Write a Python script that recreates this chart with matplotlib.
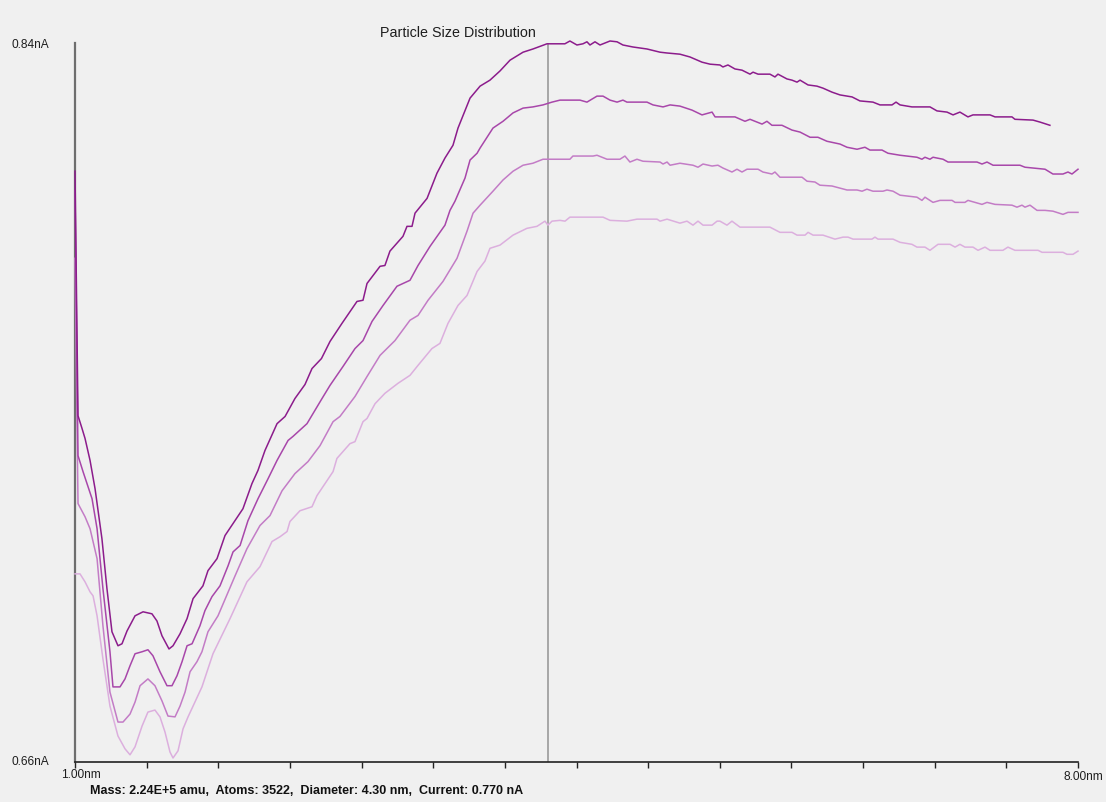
import matplotlib
matplotlib.use("Agg")
import matplotlib.pyplot as plt
from matplotlib.ticker import MultipleLocator

plt.rcParams['font.family'] = ['Liberation Sans', 'DejaVu Sans']

# ---- scan data: diameter (nm) vs detector current (nA) ----
d1 = [1.000, 1.021, 1.049, 1.070, 1.105, 1.140, 1.188, 1.223, 1.258, 1.300, 1.328, 1.363,
      1.419, 1.475, 1.537, 1.572, 1.607, 1.656, 1.684, 1.733, 1.782, 1.824, 1.893, 1.928,
      1.991, 2.047, 2.103, 2.172, 2.235, 2.277, 2.326, 2.410, 2.466, 2.535, 2.605, 2.654,
      2.720, 2.780, 2.863, 2.968, 3.010, 3.038, 3.129, 3.163, 3.198, 3.289, 3.317, 3.352,
      3.373, 3.457, 3.526, 3.582, 3.638, 3.673, 3.701, 3.757, 3.827, 3.896, 3.966, 4.036,
      4.127, 4.196, 4.294, 4.419, 4.454, 4.503, 4.545, 4.573, 4.594, 4.629, 4.664, 4.734,
      4.783, 4.824, 4.894, 4.992, 5.083, 5.131, 5.222, 5.292, 5.376, 5.432, 5.501, 5.522,
      5.557, 5.606, 5.655, 5.711, 5.732, 5.767, 5.850, 5.885, 5.906, 5.969, 6.004, 6.039,
      6.060, 6.116, 6.178, 6.220, 6.283, 6.339, 6.423, 6.478, 6.569, 6.618, 6.702, 6.730,
      6.758, 6.841, 6.967, 7.016, 7.086, 7.128, 7.176, 7.232, 7.267, 7.386, 7.421, 7.539,
      7.560, 7.686, 7.735, 7.804]
i1 = [0.8079, 0.7467, 0.7435, 0.7410, 0.7355, 0.7284, 0.7159, 0.7034, 0.6926, 0.6891, 0.6896, 0.6928,
      0.6966, 0.6976, 0.6971, 0.6953, 0.6916, 0.6883, 0.6891, 0.6921, 0.6959, 0.7009, 0.7041, 0.7079,
      0.7109, 0.7167, 0.7197, 0.7234, 0.7297, 0.7330, 0.7380, 0.7447, 0.7465, 0.7510, 0.7545, 0.7585,
      0.7610, 0.7653, 0.7698, 0.7753, 0.7756, 0.7798, 0.7841, 0.7843, 0.7879, 0.7916, 0.7941, 0.7941,
      0.7974, 0.8011, 0.8074, 0.8112, 0.8144, 0.8187, 0.8212, 0.8262, 0.8292, 0.8307, 0.8330, 0.8357,
      0.8377, 0.8385, 0.8398, 0.8398, 0.8405, 0.8395, 0.8398, 0.8403, 0.8395, 0.8403, 0.8395, 0.8405,
      0.8403, 0.8395, 0.8390, 0.8385, 0.8377, 0.8375, 0.8372, 0.8365, 0.8352, 0.8347, 0.8345, 0.8340,
      0.8345, 0.8335, 0.8332, 0.8322, 0.8327, 0.8322, 0.8322, 0.8315, 0.8322, 0.8310, 0.8307, 0.8302,
      0.8307, 0.8295, 0.8292, 0.8287, 0.8277, 0.8270, 0.8265, 0.8255, 0.8252, 0.8245, 0.8245, 0.8252,
      0.8245, 0.8240, 0.8240, 0.8230, 0.8227, 0.8220, 0.8227, 0.8215, 0.8220, 0.8220, 0.8215, 0.8215,
      0.8209, 0.8207, 0.8202, 0.8194]

d2 = [1.000, 1.021, 1.056, 1.119, 1.154, 1.195, 1.244, 1.265, 1.314, 1.349, 1.384, 1.419,
      1.468, 1.509, 1.544, 1.593, 1.642, 1.677, 1.712, 1.747, 1.782, 1.817, 1.872, 1.907,
      1.956, 2.012, 2.068, 2.103, 2.152, 2.207, 2.277, 2.347, 2.410, 2.487, 2.521, 2.619,
      2.724, 2.780, 2.870, 2.954, 3.010, 3.073, 3.150, 3.247, 3.338, 3.394, 3.478, 3.582,
      3.617, 3.652, 3.722, 3.757, 3.806, 3.827, 3.917, 3.987, 4.057, 4.127, 4.196, 4.266,
      4.329, 4.385, 4.524, 4.573, 4.643, 4.685, 4.734, 4.783, 4.824, 4.852, 4.992, 5.034,
      5.104, 5.153, 5.222, 5.306, 5.376, 5.446, 5.467, 5.606, 5.676, 5.711, 5.795, 5.829,
      5.864, 5.934, 6.004, 6.060, 6.130, 6.185, 6.248, 6.339, 6.388, 6.458, 6.513, 6.548,
      6.632, 6.674, 6.758, 6.876, 6.911, 6.932, 6.967, 6.988, 7.058, 7.093, 7.295, 7.330,
      7.365, 7.407, 7.595, 7.630, 7.770, 7.825, 7.895, 7.930, 7.958, 8.000]
i2 = [0.8030, 0.7367, 0.7327, 0.7259, 0.7184, 0.7034, 0.6876, 0.6788, 0.6788, 0.6808, 0.6841, 0.6871,
      0.6876, 0.6881, 0.6866, 0.6826, 0.6791, 0.6791, 0.6816, 0.6851, 0.6891, 0.6896, 0.6941, 0.6979,
      0.7014, 0.7041, 0.7091, 0.7126, 0.7142, 0.7204, 0.7259, 0.7309, 0.7355, 0.7405, 0.7415, 0.7447,
      0.7510, 0.7543, 0.7590, 0.7635, 0.7655, 0.7703, 0.7743, 0.7791, 0.7806, 0.7843, 0.7891, 0.7944,
      0.7981, 0.8004, 0.8062, 0.8107, 0.8124, 0.8137, 0.8187, 0.8204, 0.8225, 0.8237, 0.8240, 0.8245,
      0.8252, 0.8257, 0.8257, 0.8252, 0.8267, 0.8267, 0.8257, 0.8252, 0.8257, 0.8252, 0.8252, 0.8245,
      0.8240, 0.8245, 0.8242, 0.8232, 0.8220, 0.8227, 0.8215, 0.8215, 0.8204, 0.8209, 0.8197, 0.8204,
      0.8194, 0.8194, 0.8182, 0.8177, 0.8164, 0.8164, 0.8154, 0.8147, 0.8139, 0.8134, 0.8139, 0.8132,
      0.8132, 0.8124, 0.8119, 0.8114, 0.8109, 0.8114, 0.8109, 0.8114, 0.8109, 0.8102, 0.8102, 0.8097,
      0.8102, 0.8094, 0.8094, 0.8089, 0.8084, 0.8072, 0.8072, 0.8077, 0.8072, 0.8084]

d3 = [1.000, 1.021, 1.070, 1.105, 1.154, 1.195, 1.244, 1.300, 1.335, 1.384, 1.419, 1.454,
      1.509, 1.558, 1.607, 1.649, 1.698, 1.733, 1.768, 1.803, 1.851, 1.886, 1.928, 1.998,
      2.117, 2.200, 2.291, 2.361, 2.445, 2.535, 2.626, 2.710, 2.801, 2.849, 2.954, 3.038,
      3.129, 3.233, 3.338, 3.394, 3.464, 3.568, 3.666, 3.736, 3.778, 3.827, 3.917, 3.987,
      4.057, 4.127, 4.196, 4.266, 4.454, 4.475, 4.615, 4.643, 4.713, 4.803, 4.838, 4.873,
      4.922, 4.964, 5.083, 5.104, 5.132, 5.153, 5.222, 5.313, 5.348, 5.383, 5.446, 5.487,
      5.522, 5.585, 5.620, 5.655, 5.690, 5.767, 5.801, 5.864, 5.885, 5.920, 6.074, 6.109,
      6.164, 6.199, 6.283, 6.388, 6.458, 6.493, 6.527, 6.569, 6.639, 6.667, 6.709, 6.758,
      6.876, 6.911, 6.932, 6.988, 7.037, 7.121, 7.142, 7.211, 7.232, 7.330, 7.365, 7.421,
      7.539, 7.574, 7.609, 7.630, 7.665, 7.714, 7.770, 7.825, 7.895, 7.930, 8.000]
i3 = [0.7861, 0.7247, 0.7214, 0.7184, 0.7109, 0.6941, 0.6775, 0.6700, 0.6700, 0.6720, 0.6750, 0.6791,
      0.6808, 0.6791, 0.6753, 0.6715, 0.6713, 0.6740, 0.6775, 0.6826, 0.6851, 0.6876, 0.6926, 0.6966,
      0.7066, 0.7134, 0.7192, 0.7217, 0.7279, 0.7322, 0.7352, 0.7392, 0.7452, 0.7465, 0.7515, 0.7565,
      0.7618, 0.7655, 0.7706, 0.7718, 0.7756, 0.7803, 0.7861, 0.7929, 0.7974, 0.7994, 0.8029, 0.8057,
      0.8079, 0.8094, 0.8099, 0.8109, 0.8109, 0.8117, 0.8117, 0.8119, 0.8109, 0.8109, 0.8117, 0.8102,
      0.8109, 0.8104, 0.8102, 0.8097, 0.8102, 0.8094, 0.8099, 0.8094, 0.8089, 0.8097, 0.8092, 0.8094,
      0.8087, 0.8077, 0.8084, 0.8077, 0.8084, 0.8084, 0.8077, 0.8072, 0.8077, 0.8064, 0.8064, 0.8054,
      0.8052, 0.8044, 0.8042, 0.8032, 0.8032, 0.8029, 0.8034, 0.8029, 0.8029, 0.8032, 0.8029, 0.8019,
      0.8014, 0.8006, 0.8014, 0.8001, 0.8006, 0.8006, 0.8001, 0.8001, 0.8006, 0.7996, 0.8001, 0.7996,
      0.7994, 0.7989, 0.7994, 0.7989, 0.7994, 0.7981, 0.7981, 0.7979, 0.7971, 0.7976, 0.7976]

d4 = [1.000, 1.035, 1.070, 1.105, 1.126, 1.154, 1.195, 1.244, 1.300, 1.349, 1.384, 1.419,
      1.468, 1.509, 1.558, 1.593, 1.628, 1.663, 1.684, 1.719, 1.754, 1.789, 1.824, 1.886,
      1.963, 2.082, 2.200, 2.291, 2.375, 2.431, 2.480, 2.500, 2.570, 2.654, 2.689, 2.801,
      2.828, 2.919, 2.954, 3.010, 3.038, 3.094, 3.163, 3.254, 3.338, 3.394, 3.491, 3.547,
      3.603, 3.673, 3.736, 3.806, 3.861, 3.896, 3.966, 4.057, 4.154, 4.224, 4.280, 4.301,
      4.329, 4.385, 4.420, 4.454, 4.685, 4.734, 4.852, 4.922, 5.062, 5.083, 5.132, 5.222,
      5.271, 5.313, 5.348, 5.383, 5.446, 5.481, 5.501, 5.550, 5.585, 5.641, 5.850, 5.920,
      6.004, 6.039, 6.095, 6.116, 6.151, 6.220, 6.304, 6.360, 6.395, 6.430, 6.562, 6.583,
      6.604, 6.709, 6.758, 6.841, 6.876, 6.932, 6.967, 7.023, 7.107, 7.142, 7.176, 7.211,
      7.267, 7.302, 7.351, 7.386, 7.476, 7.511, 7.560, 7.721, 7.749, 7.895, 7.923, 7.965,
      8.000]
i4 = [0.7071, 0.7071, 0.7051, 0.7026, 0.7016, 0.6966, 0.6858, 0.6740, 0.6665, 0.6633, 0.6618, 0.6638,
      0.6690, 0.6725, 0.6730, 0.6713, 0.6675, 0.6625, 0.6610, 0.6628, 0.6683, 0.6713, 0.6740, 0.6788,
      0.6871, 0.6959, 0.7051, 0.7089, 0.7152, 0.7164, 0.7177, 0.7202, 0.7229, 0.7239, 0.7267, 0.7327,
      0.7360, 0.7397, 0.7402, 0.7452, 0.7460, 0.7497, 0.7523, 0.7548, 0.7568, 0.7593, 0.7635, 0.7648,
      0.7698, 0.7743, 0.7768, 0.7828, 0.7854, 0.7886, 0.7894, 0.7919, 0.7936, 0.7941, 0.7954, 0.7944,
      0.7954, 0.7956, 0.7954, 0.7964, 0.7964, 0.7956, 0.7954, 0.7959, 0.7959, 0.7954, 0.7959, 0.7949,
      0.7954, 0.7944, 0.7954, 0.7944, 0.7944, 0.7954, 0.7954, 0.7944, 0.7954, 0.7939, 0.7939, 0.7926,
      0.7926, 0.7919, 0.7919, 0.7926, 0.7919, 0.7919, 0.7909, 0.7914, 0.7914, 0.7909, 0.7909, 0.7914,
      0.7909, 0.7909, 0.7901, 0.7896, 0.7889, 0.7889, 0.7881, 0.7896, 0.7896, 0.7889, 0.7896, 0.7889,
      0.7889, 0.7881, 0.7889, 0.7881, 0.7881, 0.7889, 0.7881, 0.7881, 0.7876, 0.7876, 0.7871, 0.7871,
      0.7879]

series = [(d1, i1, '#8c1c8c'), (d2, i2, '#a847aa'), (d3, i3, '#c37cc6'), (d4, i4, '#dcafde')]

x_min, x_max = 1.00, 8.00
y_min, y_max = 0.66, 0.84
cursor_d = 4.30
title = "Particle Size Distribution"
status = "Mass: 2.24E+5 amu,  Atoms: 3522,  Diameter: 4.30 nm,  Current: 0.770 nA"

W, H = 1106, 803
bg = '#f0f0f0'
fig = plt.figure(figsize=(W / 100, H / 100), dpi=100, facecolor=bg)
ax = fig.add_axes([75 / W, 1 - 763 / H, 1003 / W, 719 / H])
ax.set_facecolor(bg)

# lightest trace first so the darker ones sit on top
for d, cur, col in reversed(series):
    ax.plot(d, cur, color=col, lw=1.1, solid_joinstyle='round', zorder=3, clip_on=False)

ax.axvline(cursor_d, color='#a6a6a6', lw=1.4, zorder=2)

ax.set_xlim(x_min, x_max)
ax.set_ylim(y_min, y_max)
for s in ('top', 'right'):
    ax.spines[s].set_visible(False)
ax.spines['left'].set_color('#6e6e6e')
ax.spines['left'].set_linewidth(1.6)
ax.spines['bottom'].set_color('#222222')
ax.spines['bottom'].set_linewidth(1.2)
ax.xaxis.set_major_locator(MultipleLocator(0.5))
ax.tick_params(axis='x', direction='out', length=4, width=1.0, color='#222222',
               labelbottom=False)
ax.tick_params(axis='y', left=False, labelleft=False)

txt = dict(fontsize=8.6, color='#1e1e1e')
fig.text(11 / W, 1 - 45 / H, f"{y_max:.2f}nA", ha='left', va='center', **txt)
fig.text(11 / W, 1 - 762 / H, f"{y_min:.2f}nA", ha='left', va='center', **txt)
fig.text(81 / W, 1 - 775 / H, f"{x_min:.2f}nm", ha='center', va='center', **txt)
fig.text(1083 / W, 1 - 777 / H, f"{x_max:.2f}nm", ha='center', va='center', **txt)

fig.text(458 / W, 1 - 33 / H, title, ha='center', va='center', fontsize=10.3, color='#1e1e1e')
fig.text(90 / W, 1 - 791 / H, status, ha='left', va='center', fontsize=9,
         fontweight='bold', color='#111111')

fig.savefig('out.png', dpi=100, facecolor=bg)
